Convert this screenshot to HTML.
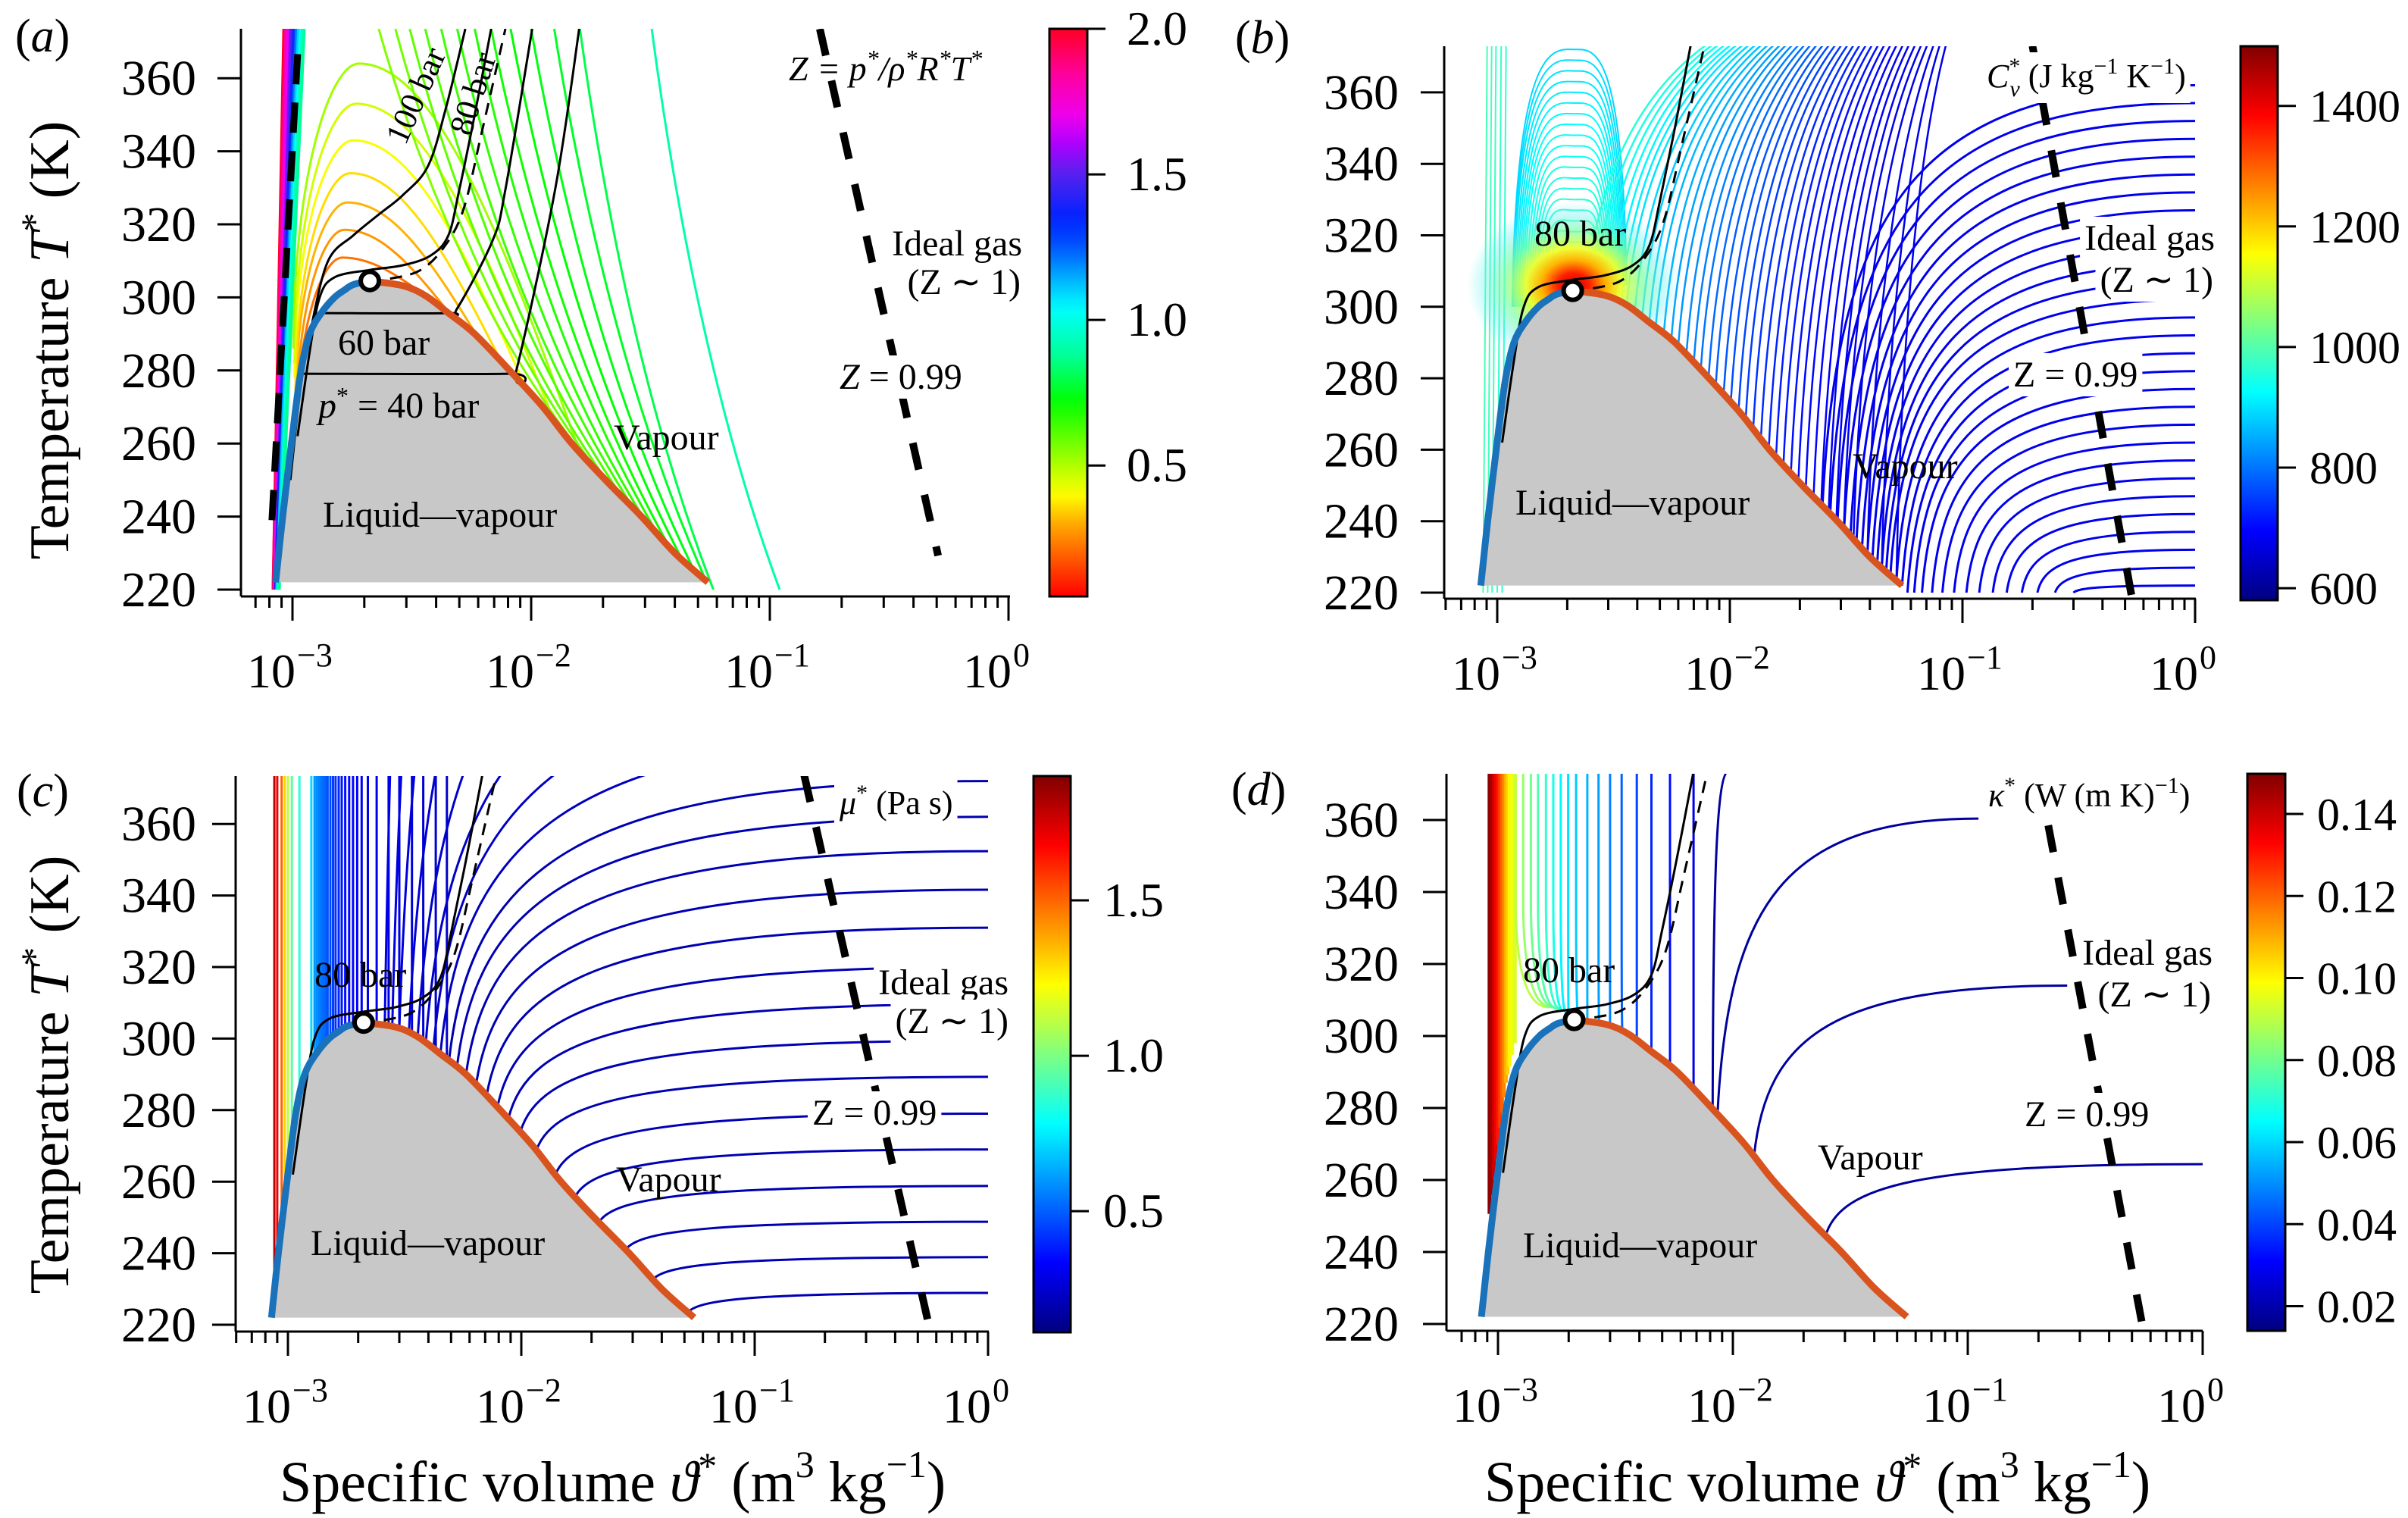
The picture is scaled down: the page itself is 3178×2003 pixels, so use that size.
<!DOCTYPE html>
<html><head><meta charset="utf-8">
<style>
html,body{margin:0;padding:0;background:#fff;}
svg{display:block;font-family:"Liberation Serif",serif;}
text{fill:#000;}
</style></head>
<body>
<svg id="fig" xmlns="http://www.w3.org/2000/svg" width="3178" height="2003" viewBox="0 0 3178 2003">
<defs id="defs"></defs>
<g id="marks"></g>
<g id="axes"></g>
<g id="labels" font-size="48">
  <text x="20" y="68" font-size="62">(<tspan font-style="italic">a</tspan>)</text>
  <text x="1630" y="70" font-size="62">(<tspan font-style="italic">b</tspan>)</text>
  <text x="22" y="1064" font-size="62">(<tspan font-style="italic">c</tspan>)</text>
  <text x="1625" y="1062" font-size="62">(<tspan font-style="italic">d</tspan>)</text>
  <text transform="translate(90,449) rotate(-90)" text-anchor="middle" font-size="74">Temperature <tspan font-style="italic">T</tspan><tspan dy="-28" font-size="50">*</tspan><tspan dy="28"> (K)</tspan></text>
  <text transform="translate(90,1418) rotate(-90)" text-anchor="middle" font-size="74">Temperature <tspan font-style="italic">T</tspan><tspan dy="-28" font-size="50">*</tspan><tspan dy="28"> (K)</tspan></text>
  <text x="369" y="1981" font-size="76">Specific volume <tspan font-style="italic">ϑ</tspan><tspan dy="-30" font-size="50">*</tspan><tspan dy="30"> (m</tspan><tspan dy="-32" font-size="50">3</tspan><tspan dy="32"> kg</tspan><tspan dy="-32" font-size="50">−1</tspan><tspan dy="32">)</tspan></text>
  <text x="1959" y="1981" font-size="76">Specific volume <tspan font-style="italic">ϑ</tspan><tspan dy="-30" font-size="50">*</tspan><tspan dy="30"> (m</tspan><tspan dy="-32" font-size="50">3</tspan><tspan dy="32"> kg</tspan><tspan dy="-32" font-size="50">−1</tspan><tspan dy="32">)</tspan></text>

  <text x="1041" y="106" font-size="46" font-style="italic">Z = p<tspan dy="-18" font-size="32">*</tspan><tspan dy="18">/ρ</tspan><tspan dy="-18" font-size="32">*</tspan><tspan dy="18">R</tspan><tspan dy="-18" font-size="32">*</tspan><tspan dy="18">T</tspan><tspan dy="-18" font-size="32">*</tspan></text>
  <text x="1349" y="337" text-anchor="end">Ideal gas</text>
  <text x="1347" y="388" text-anchor="end">(Z ∼ 1)</text>
  <text class="boxed" x="1108" y="513"><tspan font-style="italic">Z</tspan> = 0.99</text>
  <text x="810" y="593">Vapour</text>
  <text x="426" y="695">Liquid—vapour</text>
  <text x="446" y="468">60 bar</text>
  <text x="420" y="551"><tspan font-style="italic">p</tspan><tspan dy="-18" font-size="32">*</tspan><tspan dy="18"> = 40 bar</tspan></text>
  <text transform="translate(562,132) rotate(-66)" text-anchor="middle" font-size="44">100 bar</text>
  <text transform="translate(638,128) rotate(-72)" text-anchor="middle" font-size="44">80 bar</text>

  <text class="boxed" x="2622" y="115" font-size="44"><tspan font-style="italic">C</tspan><tspan dy="-18" font-size="30">*</tspan><tspan dx="-14" dy="30" font-size="30" font-style="italic">v</tspan><tspan dy="-12"> (J kg</tspan><tspan dy="-18" font-size="30">−1</tspan><tspan dy="18"> K</tspan><tspan dy="-18" font-size="30">−1</tspan><tspan dy="18">)</tspan></text>
  <text x="2025" y="324">80 bar</text>
  <text class="boxed" x="2923" y="330" text-anchor="end">Ideal gas</text>
  <text class="boxed" x="2921" y="385" text-anchor="end">(Z ∼ 1)</text>
  <text class="boxed" x="2657" y="510">Z = 0.99</text>
  <text x="2445" y="631">Vapour</text>
  <text x="2000" y="679">Liquid—vapour</text>

  <text class="boxed" x="1108" y="1074" font-size="44"><tspan font-style="italic">μ</tspan><tspan dy="-18" font-size="30">*</tspan><tspan dy="18"> (Pa s)</tspan></text>
  <text x="415" y="1302">80 bar</text>
  <text class="boxed" x="1331" y="1312" text-anchor="end">Ideal gas</text>
  <text class="boxed" x="1331" y="1363" text-anchor="end">(Z ∼ 1)</text>
  <text class="boxed" x="1072" y="1484">Z = 0.99</text>
  <text x="813" y="1572">Vapour</text>
  <text x="410" y="1656">Liquid—vapour</text>

  <text class="boxed" x="2624" y="1064" font-size="44"><tspan font-style="italic">κ</tspan><tspan dy="-18" font-size="30">*</tspan><tspan dy="18"> (W (m K)</tspan><tspan dy="-18" font-size="30">−1</tspan><tspan dy="18">)</tspan></text>
  <text x="2010" y="1296">80 bar</text>
  <text class="boxed" x="2920" y="1273" text-anchor="end">Ideal gas</text>
  <text class="boxed" x="2918" y="1328" text-anchor="end">(Z ∼ 1)</text>
  <text class="boxed" x="2672" y="1486">Z = 0.99</text>
  <text x="2399" y="1543">Vapour</text>
  <text x="2010" y="1659">Liquid—vapour</text>
</g>
</svg>
<script>
const liqT = [222,240,260,279,290,296,300,302,303.5,304.5];
const liqV = [0.00085,0.00091,0.00099,0.00108,0.00118,0.00133,0.00150,0.00165,0.00180,0.00211];
const vapT = [304.5,303.2,300.5,295.7,290,279,270,260,250,240,230,222];
const vapV = [0.00211,0.0029,0.0036,0.0045,0.0058,0.0084,0.0112,0.0148,0.0205,0.0290,0.0400,0.0550];
const critV = 0.00211, critT = 304.5;
const iso80V = [0.00105,0.00118,0.0013,0.0015,0.0021,0.0029,0.0038,0.0045,0.0050,0.0058,0.0068];
const iso80T = [262,285,300,305.5,307.5,308.8,311.5,317,329.5,350,373.5];
const widomV = [0.00211,0.0025,0.0034,0.0043,0.0052,0.0062,0.0078];
const widomT = [304.5,305,307.3,313.6,324,345,373.5];
const iso100V = [0.00098,0.00108,0.0012,0.00141,0.0018,0.0023,0.0029,0.0037,0.0044,0.0053];
const iso100T = [250,275,292,310,317,322.7,328,336,352,373.5];
const iso60V = [0.00136,0.00444,0.0049,0.0069,0.0078,0.0101];
const iso60T = [295.7,295.7,297,315.6,329.5,373.5];
const iso40V = [0.00108,0.0081,0.0087,0.0126,0.0159];
const iso40T = [279.1,279.1,280.4,329.5,373.5];
const aZV=[0.162,0.507], aZT=[373.5,229.3];
const bZV=[0.20,0.537],  bZT=[373,218];
const cZV=[0.163,0.566], cZT=[373.6,218];
const dZV=[0.20,0.56],   dZT=[373,218];

const aWedgeBotV = [0.00083,0.00083,0.00084,0.00084,0.00084,0.00085,0.00085,0.00085,0.00086,0.00086,0.00086,0.00087,0.00087,0.00088];
const aWedgeTopV = [0.00092,0.00093,0.00094,0.00095,0.00096,0.00098,0.00099,0.00101,0.00103,0.00104,0.00106,0.00108,0.00110,0.00112];
const aWedgeZ = [2.0,1.92,1.85,1.78,1.7,1.6,1.5,1.4,1.3,1.2,1.1,1.04,0.95,0.88];
const aHumpStartV = [0.00104,0.00104,0.00103,0.00103,0.00102,0.00102,0.00101];
const aHumpStartT = [262,266,270,274,278,282,286];
const aHumpPeakV = [0.00162,0.00165,0.0017,0.00175,0.0018,0.00185,0.0019];
const aHumpPeakT = [310.9,318.5,326,334,343,353,364];
const aHumpEndV = [0.0036,0.0046,0.0060,0.0075,0.0095,0.0125,0.0160];
const aHumpZ = [0.22,0.27,0.31,0.36,0.41,0.46,0.52];
const aSlantTopV = [0.0023,0.0027,0.0031,0.0036,0.0042,0.0049,0.0058,0.0068,0.0082,0.0100,0.0125,0.0160,0.0320];
const aSlantEndV = [0.0170,0.0190,0.0210,0.0240,0.0270,0.0300,0.0340,0.0380,0.0430,0.0480,0.0540,0.0580,0.1100];
const aSlantZ = [0.56,0.58,0.6,0.62,0.64,0.66,0.68,0.7,0.72,0.74,0.76,0.8,0.9];
const aLiqDashV = [0.00082,0.00106], aLiqDashT = [239,371];
const aTicksZ = [2.0,1.5,1.0,0.5], aTickLbl = ['2.0','1.5','1.0','0.5'];

const bArchPeakT = [312,315,318,321,324,327,330,333,336,339,342,345,348,351,354,357,360,363,366,369,372];
const bArchLeftV = [0.00175,0.0017,0.00165,0.0016,0.00156,0.00152,0.00148,0.00145,0.00142,0.00139,0.00136,0.00133,0.0013,0.00128,0.00126,0.00124,0.00122,0.0012,0.00118,0.00117,0.00116];
const bArchRightV = [0.0026,0.00265,0.0027,0.00275,0.0028,0.00285,0.0029,0.00295,0.003,0.00305,0.0031,0.00315,0.0032,0.00325,0.0033,0.00335,0.0034,0.00345,0.0035,0.00355,0.0036];
const bArchCv = [990,985,980,975,970,965,960,955,950,945,940,935,930,925,920,915,910,905,900,895,890];
const bStripV = [0.00087,0.00091,0.00095,0.001,0.00105];
const bStripCv = [990,985,980,975,970];
const bDenseStartV = [0.0024,0.0026,0.0028,0.003,0.0032,0.0034,0.0036,0.0039,0.0042,0.0045,0.0048,0.0052,0.0056,0.006,0.0065,0.007,0.0075,0.0081,0.0087,0.0094,0.0101,0.0109,0.0117,0.0126,0.0136,0.0147,0.0158,0.017,0.0183,0.0197,0.0212,0.0229,0.0247,0.0266,0.0287,0.0309,0.034,0.039,0.045,0.052];
const bDenseTopV = [0.0080,0.0085,0.0090,0.0096,0.0102,0.0108,0.0115,0.0122,0.0130,0.0138,0.0147,0.0156,0.0166,0.0176,0.0187,0.0199,0.0211,0.0224,0.0238,0.0253,0.0269,0.0286,0.0304,0.0323,0.0343,0.0364,0.0387,0.0411,0.0437,0.0464,0.0493,0.0524,0.0557,0.0591,0.0628,0.0668,0.0709,0.0754,0.0801,0.0851];
const bDenseCv = [960,950,940,930,920,910,900,890,880,870,860,850,840,830,820,810,800,790,780,772,764,756,748,740,733,726,720,714,708,703,698,694,690,686,683,680,678,676,674,672];
const bFanStartV = [0.30,0.25,0.21,0.18,0.155,0.135,0.118,0.104,0.092,0.082,0.074,0.067,0.062,0.058,0.055,0.052,0.049,0.047,0.045,0.043,0.041,0.039,0.037,0.035,0.033,0.031,0.029,0.027,0.025];
const bFanEndT = [222,227,232,237,242,247,252,257,262,267,272,277,282,287,292,297,302,307,312,317,322,327,332,337,342,347,352,357,362];
const bFanCv = [680,680,680,680,680,680,680,680,680,680,680,680,680,680,680,680,680,680,680,680,680,680,680,680,680,680,680,680,680];
const bHeatV = 0.00213, bHeatT = 306;
const bTicksCv = [1400,1200,1000,800,600], bTickLbl = ['1400','1200','1000','800','600'];

const cLeftV = [0.000875,0.0009,0.00094,0.00097,0.001,0.00104,0.00112,0.00126,0.0013,0.00133,0.00136,0.00139,0.00142,0.00145,0.00148,0.00152,0.00156,0.0016,0.00165,0.0017,0.00176,0.00183,0.0019,0.00198,0.00207,0.0022,0.0024,0.0027,0.003,0.0034,0.0038,0.0043,0.0048];
const cLeftMu = [1.8,1.7,1.5,1.3,1.1,0.95,0.85,0.72,0.6,0.58,0.56,0.54,0.52,0.5,0.48,0.46,0.44,0.42,0.4,0.38,0.36,0.35,0.34,0.33,0.32,0.31,0.3,0.29,0.28,0.27,0.26,0.25,0.24];
const cFanStartV = [0.0518,0.0367,0.028,0.0215,0.017,0.014,0.0116,0.0099,0.0088,0.0079,0.0071,0.0064,0.0058,0.0053,0.0049,0.0045,0.0042,0.0039,0.0036,0.0033,0.0030,0.0028,0.0026];
const cFanEndT = [228.9,238.9,248.8,258.8,269,279,289.3,299.4,309.6,320,331,341.6,352.4,362,372,385,400,420,450,500,580,700,900];
const cFanMu = [0.2,0.2,0.2,0.2,0.2,0.2,0.2,0.2,0.2,0.2,0.2,0.2,0.2,0.2,0.2,0.22,0.23,0.24,0.25,0.26,0.27,0.28,0.29];
const cTicksMu = [1.5,1.0,0.5], cTickLbl = ['1.5','1.0','0.5'];

const dLeftV = [0.00092,0.00094,0.00096,0.00098,0.001,0.00102,0.00104,0.00106,0.00108,0.0011,0.00112,0.00115,0.00118];
const dLeftK = [0.148,0.145,0.14,0.135,0.13,0.125,0.12,0.115,0.11,0.105,0.1,0.097,0.094];
const dCurveTopV = [0.00119,0.00128,0.00138,0.00148,0.0016,0.00172,0.00185,0.00199,0.00215,0.0024,0.00268,0.003,0.00336,0.0039,0.0045,0.0054,0.0068];
const dCurveEndV = [0.00165,0.0017,0.00175,0.0018,0.00185,0.0019,0.00195,0.002,0.0022,0.0024,0.0027,0.003,0.0034,0.0039,0.0045,0.0054,0.0068];
const dCurveEndT = [308,308,308,307.5,307.5,307,306.5,306,305,304,303,301.5,299,296,293,289,282];
const dCurveK = [0.09,0.085,0.08,0.076,0.072,0.068,0.064,0.061,0.058,0.055,0.052,0.048,0.044,0.04,0.036,0.032,0.028];
const dFanStartV = [0.0248,0.0123,0.0086,0.0082];
const dFanEndV = [1.0,0.265,0.111,0.0096];
const dFanEndT = [264.4,314,360.4,373.5];
const dTicksK = [0.14,0.12,0.10,0.08,0.06,0.04,0.02], dTickLbl = ['0.14','0.12','0.10','0.08','0.06','0.04','0.02'];

const PA={id:'a',x3:386,dec:315,y220:778,p20:96.4,top:38,ax:787,left:318,right:1333,lblX:259};
const PB={id:'b',x3:1976,dec:307,y220:782,p20:94.3,top:61,ax:790,left:1906,right:2898,lblX:1846};
const PC={id:'c',x3:380,dec:308,y220:1748,p20:94.4,top:1024,ax:1757,left:311,right:1305,lblX:259};
const PD={id:'d',x3:1977,dec:310,y220:1747,p20:95,top:1021,ax:1756,left:1909,right:2907,lblX:1846};

const NS='http://www.w3.org/2000/svg';
function mk(tag,attrs,parent){const e=document.createElementNS(NS,tag);for(const k in attrs)e.setAttribute(k,attrs[k]);parent.appendChild(e);return e;}
function X(P,v){return P.x3+P.dec*Math.log10(v/1e-3);}
function Y(P,T){return P.y220-(T-220)/20*P.p20;}
function f(n){return n.toFixed(1);}
function interpLog(vs,ts,v){
  const lv=Math.log10(v);
  for(let i=0;i<vs.length-1;i++){const a=Math.log10(vs[i]),b=Math.log10(vs[i+1]);
    if((lv-a)*(lv-b)<=0){const t=(lv-a)/(b-a);return ts[i]+t*(ts[i+1]-ts[i]);}}
  return lv<Math.log10(vs[0])?ts[0]:ts[ts.length-1];
}
function vapTat(v){return interpLog(vapV,vapT,v);}
function liqTat(v){return interpLog(liqV,liqT,v);}
function smooth(pts){
  let d=`M${f(pts[0][0])} ${f(pts[0][1])}`;
  for(let i=0;i<pts.length-1;i++){
    const p0=pts[i-1]||pts[i],p1=pts[i],p2=pts[i+1],p3=pts[i+2]||p2;
    const c1=[p1[0]+(p2[0]-p0[0])/6,p1[1]+(p2[1]-p0[1])/6];
    const c2=[p2[0]-(p3[0]-p1[0])/6,p2[1]-(p3[1]-p1[1])/6];
    d+=` C${f(c1[0])} ${f(c1[1])} ${f(c2[0])} ${f(c2[1])} ${f(p2[0])} ${f(p2[1])}`;
  }
  return d;
}
function curveVT(P,vs,ts){return smooth(vs.map((v,i)=>[X(P,v),Y(P,ts[i])]));}
function fanD(P,vs,Ts,ve,Te){
  const x0=X(P,vs),y0=Y(P,Ts),xe=X(P,ve),ye=Y(P,Te);const W=xe-x0,H=y0-ye;
  return `M${f(x0)} ${f(y0)} C${f(x0+0.04*W)} ${f(y0-0.7*H)} ${f(x0+0.25*W)} ${f(ye)} ${f(xe)} ${f(ye)}`;
}
function hex(c){return [parseInt(c.slice(1,3),16),parseInt(c.slice(3,5),16),parseInt(c.slice(5,7),16)];}
const aStopV=[0.05,0.2,0.3,0.4,0.5,0.72,0.88,1.04,1.15,1.25,1.35,1.5,1.6,1.7,1.85,2.0];
const aStopC=['#ff0000','#ff6600','#ffaa00','#ffff00','#b0ff00','#00ff00','#00ff99','#00ffff','#00aaff','#0055ff','#0022ff','#5522ee','#aa00ff','#ee00ee','#ff0099','#ff0022'];
function aMap(z){
  if(z<=aStopV[0])return aStopC[0];
  for(let i=0;i<aStopV.length-1;i++){if(z<=aStopV[i+1]){const t=(z-aStopV[i])/(aStopV[i+1]-aStopV[i]);const a=hex(aStopC[i]),b=hex(aStopC[i+1]);
    return `rgb(${Math.round(a[0]+t*(b[0]-a[0]))},${Math.round(a[1]+t*(b[1]-a[1]))},${Math.round(a[2]+t*(b[2]-a[2]))})`;}}
  return aStopC[aStopC.length-1];
}
function cl(x){return Math.max(0,Math.min(1,x));}
function jet(t){t=cl(t);const r=cl(1.5-Math.abs(4*t-3)),g=cl(1.5-Math.abs(4*t-2)),b=cl(1.5-Math.abs(4*t-1));
  return `rgb(${Math.round(r*255)},${Math.round(g*255)},${Math.round(b*255)})`;}
const bMap=v=>jet((v-580)/(1500-580));
const cMap=v=>jet((v-0.11)/(1.9-0.11));
const dMap=v=>jet((v-0.014)/(0.15-0.014));

const defs=document.getElementById('defs');
const marks=document.getElementById('marks');
const axes=document.getElementById('axes');

function panelGroup(P){
  const cp=mk('clipPath',{id:'clip-'+P.id,clipPathUnits:'userSpaceOnUse'},defs);
  mk('rect',{x:P.left+2,y:P.top,width:P.right-P.left,height:P.ax-P.top-2},cp);
  const g=mk('g',{'clip-path':`url(#clip-${P.id})`},marks);
  
  
  return g;
}
function line(g,d,color,w,name,dash){
  const p=mk('path',{d:d,fill:'none',stroke:color,'stroke-width':w,'stroke-linecap':'butt'},g);
  if(dash)p.setAttribute('stroke-dasharray',dash);
  
  
  return p;
}
function dome(P,g){
  const pts=[];
  liqV.forEach((v,i)=>pts.push([X(P,v),Y(P,liqT[i])]));
  vapV.forEach((v,i)=>{if(i>0)pts.push([X(P,v),Y(P,vapT[i])]);});
  const poly=mk('polygon',{points:pts.map(p=>f(p[0])+','+f(p[1])).join(' '),fill:'#c8c8c8',stroke:'none'},g);
  
  
}
function domeLines(P,g){
  line(g,curveVT(P,liqV,liqT),'#1a72bb',9,'saturated-liquid-line');
  line(g,curveVT(P,vapV,vapT),'#d9531e',9,'saturated-vapour-line');
}
function crit(P,g){
  const c=mk('circle',{cx:f(X(P,critV)),cy:f(Y(P,critT)),r:12,fill:'#fff',stroke:'#000','stroke-width':6},g);
  
  
}
function zLine(P,g,vs,ts){
  line(g,`M${f(X(P,vs[0]))} ${f(Y(P,ts[0]))} L${f(X(P,vs[1]))} ${f(Y(P,ts[1]))}`,'#000',10,'z-099-line','36 34');
}
function isobars80(P,g){
  line(g,curveVT(P,iso80V,iso80T),'#000',3,'isobar-80-bar');
  line(g,curveVT(P,widomV,widomT),'#000',3,'widom-line','16 11');
}
function drawAxes(P,yLabels){
  const ga=mk('g',{stroke:'#000','stroke-width':3,fill:'none'},axes);
  
  
  const yl=mk('line',{x1:P.left,y1:P.top,x2:P.left,y2:P.ax},ga);
  
  
  const xl=mk('line',{x1:P.left,y1:P.ax,x2:P.right,y2:P.ax},ga);
  
  
  yLabels.forEach(T=>{
    const y=Y(P,T);
    const t=mk('line',{x1:P.left-31,y1:f(y),x2:P.left,y2:f(y)},ga);
    
    
    const tx=mk('text',{x:P.lblX,y:f(y+22),'text-anchor':'end','font-size':66,stroke:'none',fill:'#000'},axes);
    tx.textContent=String(T);
    
    
  });
  const vmin=Math.pow(10,(P.left-P.x3)/P.dec-3);
  for(let e=-4;e<=0;e++){for(let m=1;m<=9;m++){
    const v=m*Math.pow(10,e);if(v<vmin-1e-12||v>1.0001)continue;
    const x=X(P,v);const major=(m===1);
    const t=mk('line',{x1:f(x),y1:P.ax,x2:f(x),y2:P.ax+(major?32:15)},ga);
    
    
    if(major){
      const tx=mk('text',{x:f(x+4),y:P.ax+120,'text-anchor':'end','font-size':64,stroke:'none',fill:'#000'},axes);
      tx.textContent='10';
      
      
      const sp=mk('text',{x:f(x+6),y:P.ax+92,'font-size':44,stroke:'none',fill:'#000'},axes);
      sp.textContent=(e===0?'0':'−'+(-e));
      
      
    }
  }}
}
function colorbar(id,x0,x1,y0,y1,vTop,vBot,map,ticks,lbls,lblX,fs){
  const gr=mk('linearGradient',{id:'cb-'+id,x1:0,y1:0,x2:0,y2:1},defs);
  for(let i=0;i<=40;i++){const t=i/40;mk('stop',{offset:t,'stop-color':map(vTop+(vBot-vTop)*t)},gr);}
  const g=mk('g',{},axes);
  
  
  const r=mk('rect',{x:x0,y:y0,width:x1-x0,height:y1-y0,fill:`url(#cb-${id})`,stroke:'#000','stroke-width':3},g);
  
  
  ticks.forEach((v,i)=>{
    const y=y0+(v-vTop)/(vBot-vTop)*(y1-y0);
    const t=mk('line',{x1:x1,y1:f(y),x2:x1+24,y2:f(y),stroke:'#000','stroke-width':3},g);
    
    
    const tx=mk('text',{x:lblX,y:f(y+21),'font-size':fs},g);
    tx.textContent=lbls[i];
    
    
  });
}

const yTicks=[220,240,260,280,300,320,340,360];

(function(){
  const P=PA,g=panelGroup(P);
  aWedgeTopV.forEach((vt,i)=>{
    line(g,`M${f(X(P,aWedgeBotV[i]))} ${f(Y(P,220))} L${f(X(P,vt))} ${f(Y(P,373.5))}`,aMap(aWedgeZ[i]),4,'z-contour-wedge');
  });
  aHumpPeakT.forEach((pt,i)=>{
    const S=[X(P,aHumpStartV[i]),Y(P,aHumpStartT[i])],K=[X(P,aHumpPeakV[i]),Y(P,pt)];
    const ev=aHumpEndV[i],E=[X(P,ev),Y(P,vapTat(ev))];
    const d=`M${f(S[0])} ${f(S[1])} C${f(S[0])} ${f(S[1]-0.6*(S[1]-K[1]))} ${f(K[0]-0.45*(K[0]-S[0]))} ${f(K[1])} ${f(K[0])} ${f(K[1])}`+
      ` C${f(K[0]+0.35*(E[0]-K[0]))} ${f(K[1])} ${f(E[0]-0.35*(E[0]-K[0]))} ${f(E[1]-0.55*(E[1]-K[1]))} ${f(E[0])} ${f(E[1])}`;
    line(g,d,aMap(aHumpZ[i]),3,'z-contour-hump');
  });
  aSlantTopV.forEach((vt,i)=>{
    const ev=aSlantEndV[i];const et=ev<=0.055?vapTat(ev):220;
    const x0=X(P,vt),y0=Y(P,373.5),xe=X(P,ev),ye=Y(P,et);
    line(g,`M${f(x0)} ${f(y0)} Q${f(x0+0.35*(xe-x0))} ${f(y0+0.6*(ye-y0))} ${f(xe)} ${f(ye)}`,aMap(aSlantZ[i]),3,'z-contour-line');
  });
  dome(P,g);
  line(g,curveVT(P,iso100V,iso100T),'#000',3,'isobar-100-bar');
  isobars80(P,g);
  line(g,curveVT(P,iso60V,iso60T),'#000',3,'isobar-60-bar');
  line(g,curveVT(P,iso40V,iso40T),'#000',3,'isobar-40-bar');
  line(g,`M${f(X(P,aLiqDashV[0]))} ${f(Y(P,aLiqDashT[0]))} L${f(X(P,aLiqDashV[1]))} ${f(Y(P,aLiqDashT[1]))}`,'#000',9,'z-liquid-dashed-line','40 24');
  domeLines(P,g);crit(P,g);
  zLine(P,g,aZV,aZT);
  drawAxes(P,yTicks);
  colorbar('a',1385,1435,38,787,2.0,0.05,aMap,aTicksZ,aTickLbl,1487,64);
})();

(function(){
  const P=PB,g=panelGroup(P);
  bStripV.forEach((v,i)=>{
    line(g,`M${f(X(P,v))} ${f(Y(P,220))} L${f(X(P,v*1.04))} ${f(Y(P,373.5))}`,bMap(bStripCv[i]),2,'cv-contour-strip');
  });
  bArchPeakT.forEach((pt,i)=>{
    const L=[X(P,bArchLeftV[i]),Y(P,300)],R=[X(P,bArchRightV[i]),Y(P,306)],cx=X(P,0.00215),K=Y(P,pt);
    const d=`M${f(L[0])} ${f(L[1])} C${f(L[0]+5)} ${f(K-20)} ${f(cx-25)} ${f(K)} ${f(cx)} ${f(K)} C${f(cx+25)} ${f(K)} ${f(R[0]-5)} ${f(K-10)} ${f(R[0])} ${f(R[1])}`;
    line(g,d,bMap(bArchCv[i]),2,'cv-contour-arch');
  });
  bDenseStartV.forEach((sv,i)=>{
    const x0=X(P,sv),y0=Y(P,vapTat(sv)),xt=X(P,bDenseTopV[i]),yt=Y(P,373.5);
    line(g,`M${f(x0)} ${f(y0)} Q${f(x0+0.15*(xt-x0))} ${f(y0-0.7*(y0-yt))} ${f(xt)} ${f(yt)}`,bMap(bDenseCv[i]),2.5,'cv-contour-dense');
  });
  bFanStartV.forEach((sv,i)=>{
    const st=sv<=0.055?vapTat(sv):220;
    line(g,fanD(P,sv,st,1.0,bFanEndT[i]),bMap(bFanCv[i]),3,'cv-contour-fan');
  });
  const rg=mk('radialGradient',{id:'heat-b'},defs);
  [[0,'#c00000',1],[0.15,'#ff2000',1],[0.3,'#ffb000',1],[0.45,'#f0ff30',0.95],[0.65,'#80ffa0',0.7],[0.85,'#60f0f0',0.35],[1,'#60f0f0',0]].forEach(s=>mk('stop',{offset:s[0],'stop-color':s[1],'stop-opacity':s[2]},rg));
  const he=mk('ellipse',{cx:f(X(P,bHeatV)),cy:f(Y(P,bHeatT)),rx:140,ry:110,fill:'url(#heat-b)'},g);
  
  
  dome(P,g);isobars80(P,g);domeLines(P,g);crit(P,g);
  zLine(P,g,bZV,bZT);
  drawAxes(P,yTicks);
  colorbar('b',2957,3006,61,792,1499,580,bMap,bTicksCv,bTickLbl,3048,60);
})();

(function(){
  const P=PC,g=panelGroup(P);
  cLeftV.forEach((v,i)=>{
    const et=v<0.00211?liqTat(v):vapTat(v);
    line(g,`M${f(X(P,v))} ${f(Y(P,et))} L${f(X(P,v))} ${f(Y(P,373.6))}`,cMap(cLeftMu[i]),3,'mu-contour-vertical');
  });
  cFanStartV.forEach((sv,i)=>{
    line(g,fanD(P,sv,vapTat(sv),1.0,cFanEndT[i]),cMap(cFanMu[i]),3,'mu-contour-fan');
  });
  dome(P,g);isobars80(P,g);domeLines(P,g);crit(P,g);
  zLine(P,g,cZV,cZT);
  drawAxes(P,yTicks);
  colorbar('c',1364,1413,1024,1758,1.90,0.11,cMap,cTicksMu,cTickLbl,1456,64);
})();

(function(){
  const P=PD,g=panelGroup(P);
  dLeftV.forEach((v,i)=>{
    line(g,`M${f(X(P,v))} ${f(Y(P,liqTat(v)+8))} L${f(X(P,v))} ${f(Y(P,373.6))}`,dMap(dLeftK[i]),5,'kappa-contour-vertical');
  });
  dCurveTopV.forEach((vt,i)=>{
    const xt=X(P,vt),xe=X(P,dCurveEndV[i]),ye=Y(P,dCurveEndT[i]),ym=Y(P,dCurveEndT[i]+30);
    line(g,`M${f(xt)} ${f(Y(P,373.6))} L${f(xt)} ${f(ym)} Q${f(xt)} ${f(ye)} ${f(xe)} ${f(ye)}`,dMap(dCurveK[i]),3,'kappa-contour-curve');
  });
  dFanStartV.forEach((sv,i)=>{
    line(g,fanD(P,sv,vapTat(sv),dFanEndV[i],dFanEndT[i]),dMap(0.018),3,'kappa-contour-fan');
  });
  dome(P,g);isobars80(P,g);domeLines(P,g);crit(P,g);
  zLine(P,g,dZV,dZT);
  drawAxes(P,yTicks);
  colorbar('d',2966,3016,1021,1756,0.1498,0.014,dMap,dTicksK,dTickLbl,3058,60);
})();

document.querySelectorAll('#labels .boxed').forEach(t=>{
  const b=t.getBBox();
  const r=document.createElementNS(NS,'rect');
  r.setAttribute('x',b.x-6);r.setAttribute('y',b.y-2);r.setAttribute('width',b.width+12);r.setAttribute('height',b.height+4);
  r.setAttribute('fill','#fff');
  
  
  t.parentNode.insertBefore(r,t);
});
</script>
</body></html>
